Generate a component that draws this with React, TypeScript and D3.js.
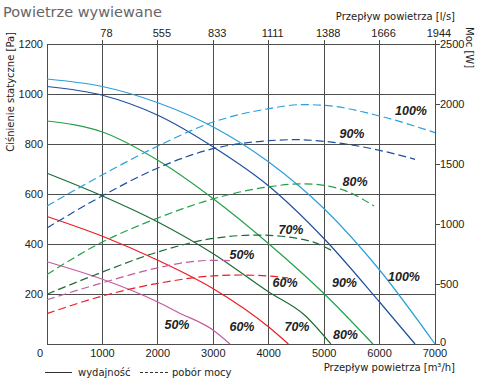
import * as d3 from "d3";

// --- chart data ---
const flowTicks = [0, 1000, 2000, 3000, 4000, 5000, 6000, 7000];
const lsTickFlows = [1000, 2000, 3000, 4000, 5000, 6000, 7000];
const lsTickLabels = ["78", "555", "833", "1111", "1388", "1666", "1944"];
const paTicks = [200, 400, 600, 800, 1000, 1200];
const wTicks = [0, 500, 1000, 1500, 2000, 2500];

type Pt = [number, number];

// static pressure [Pa] vs air flow [m3/h]
const pressure100: Pt[] = [[0, 1060], [1000, 1030], [2000, 965], [3000, 868], [4000, 728], [5000, 541], [6000, 296], [7000, 0]];
const pressure90: Pt[] = [[0, 1030], [1000, 995], [2000, 915], [3000, 788], [4000, 632], [5000, 421], [6000, 168], [6640, 0]];
const pressure80: Pt[] = [[0, 892], [1000, 848], [2000, 735], [3000, 581], [4000, 401], [5000, 201], [5880, 0]];
const pressure70: Pt[] = [[0, 683], [1000, 592], [2000, 488], [3000, 361], [4000, 208], [4650, 115], [5120, 0]];
const pressure60: Pt[] = [[0, 510], [1000, 431], [2000, 335], [3000, 221], [4000, 68], [4355, 0]];
const pressure50: Pt[] = [[0, 329], [1000, 259], [2000, 168], [2350, 128], [3000, 55], [3300, 0]];

// power [W] vs air flow [m3/h]
const power100: Pt[] = [[0, 1150], [1000, 1410], [2000, 1650], [3000, 1850], [4000, 1961], [4600, 1995], [5000, 1989], [6000, 1900], [7000, 1761]];
const power90: Pt[] = [[0, 967], [1000, 1235], [2000, 1467], [3000, 1628], [4000, 1694], [4500, 1703], [5000, 1689], [6000, 1614], [6640, 1539]];
const power80: Pt[] = [[0, 580], [1000, 850], [2000, 1050], [3000, 1210], [4000, 1310], [4600, 1335], [5000, 1322], [5450, 1265], [5900, 1150]];
const power70: Pt[] = [[0, 415], [1000, 600], [2000, 767], [3000, 880], [3800, 908], [4690, 864], [5130, 781]];
const power60: Pt[] = [[0, 253], [1000, 400], [2000, 505], [3000, 568], [3500, 575], [4000, 566], [4350, 550]];
const power50: Pt[] = [[0, 369], [1000, 510], [2000, 635], [2500, 680], [3000, 697], [3350, 694]];

const speeds = ["100%", "90%", "80%", "70%", "60%", "50%"];
const pressures = [pressure100, pressure90, pressure80, pressure70, pressure60, pressure50];
const powers = [power100, power90, power80, power70, power60, power50];
const colors = ["#2a9fdb", "#1d4f9e", "#24a048", "#1b6c38", "#ec1c24", "#c35ba0"];

// label anchors in data units
const pressureLabels: { t: string; flow: number; pa: number }[] = [
  { t: "100%", flow: 6441, pa: 269 },
  { t: "90%", flow: 5367, pa: 243 },
  { t: "80%", flow: 5385, pa: 37 },
  { t: "70%", flow: 4510, pa: 69 },
  { t: "60%", flow: 3518, pa: 68 },
  { t: "50%", flow: 2345, pa: 76 },
];
const powerLabels: { t: string; flow: number; w: number }[] = [
  { t: "100%", flow: 6567, w: 1942 },
  { t: "90%", flow: 5502, w: 1750 },
  { t: "80%", flow: 5557, w: 1350 },
  { t: "70%", flow: 4402, w: 948 },
  { t: "60%", flow: 4294, w: 506 },
  { t: "50%", flow: 3518, w: 739 },
];

const W = 480;
const H = 390;
const tickFont = "'Liberation Sans', Arial, sans-serif";
const titleFont = "'DejaVu Sans', Verdana, sans-serif";

export default function App() {
  const x = d3.scaleLinear().domain([0, 7000]).range([47, 435]);
  const yP = d3.scaleLinear().domain([0, 1200]).range([344, 44]);
  const yW = d3.scaleLinear().domain([0, 2500]).range([344, 44]);

  const pLine = d3
    .line<Pt>()
    .x((d) => x(d[0]))
    .y((d) => yP(d[1]))
    .curve(d3.curveMonotoneX);
  const wLine = d3
    .line<Pt>()
    .x((d) => x(d[0]))
    .y((d) => yW(d[1]))
    .curve(d3.curveMonotoneX);

  const grid = "#4d4d4d";
  const [x0, x1] = x.range();
  const [yb, yt] = yP.range();

  return (
    <svg
      width={W}
      height={H}
      style={{ position: "absolute", left: 0, top: 0, background: "#fff" }}
    >
      <text x={3} y={17} fontFamily={titleFont} fontSize={14.5} fill="#666">
        Powietrze wywiewane
      </text>

      {/* grid */}
      <g stroke={grid} strokeWidth={1} shapeRendering="crispEdges">
        {flowTicks.map((f) => (
          <line key={"v" + f} x1={x(f)} x2={x(f)} y1={yb} y2={f === 0 ? yt : yt - 4} />
        ))}
        {paTicks.map((p) => (
          <line key={"h" + p} x1={x0} x2={x1} y1={yP(p)} y2={yP(p)} />
        ))}
        <line x1={x0} x2={x1} y1={yb} y2={yb} />
        {wTicks.map((w) => (
          <line key={"w" + w} x1={x1} x2={x1 + 5} y1={yW(w)} y2={yW(w)} />
        ))}
      </g>

      {/* curves */}
      <g fill="none" strokeWidth={1.2}>
        {pressures.map((d, i) => (
          <path key={"p" + i} d={pLine(d) ?? ""} stroke={colors[i]} />
        ))}
        {powers.map((d, i) => (
          <path key={"w" + i} d={wLine(d) ?? ""} stroke={colors[i]} strokeDasharray="8 4" />
        ))}
      </g>

      {/* curve labels */}
      <g
        fontFamily={tickFont}
        fontSize={12.5}
        fontWeight="bold"
        fontStyle="italic"
        fill="#222"
        textAnchor="middle"
        dominantBaseline="central"
      >
        {pressureLabels.map((l) => (
          <text key={"pl" + l.t} x={x(l.flow)} y={yP(l.pa)}>
            {l.t}
          </text>
        ))}
        {powerLabels.map((l) => (
          <text key={"wl" + l.t} x={x(l.flow)} y={yW(l.w)}>
            {l.t}
          </text>
        ))}
      </g>

      {/* axes labels */}
      <g fontFamily={tickFont} fontSize={11} fill="#222">
        {flowTicks.map((f) => (
          <text key={"bx" + f} x={x(f) + (f === 0 ? -7 : 0)} y={357} textAnchor="middle">
            {f}
          </text>
        ))}
        {lsTickFlows.map((f, i) => (
          <text key={"tx" + f} x={x(f) + 4} y={37} textAnchor="middle">
            {lsTickLabels[i]}
          </text>
        ))}
        {paTicks.map((p) => (
          <text key={"ly" + p} x={43} y={yP(p)} textAnchor="end" dominantBaseline="central">
            {p}
          </text>
        ))}
        {wTicks.map((w) => (
          <text
            key={"ry" + w}
            x={440}
            y={yW(w) - (w === 0 ? 2 : 0)}
            dominantBaseline="central"
          >
            {w}
          </text>
        ))}
      </g>

      <g fontFamily={titleFont} fontSize={10} fill="#222">
        <text x={455} y={20} textAnchor="end">
          Przepływ powietrza [l/s]
        </text>
        <text x={455} y={371} textAnchor="end">
          Przepływ powietrza [m³/h]
        </text>
        <text transform="translate(14,32) rotate(-90)" textAnchor="end">
          Ciśnienie statyczne [Pa]
        </text>
        <text transform="translate(466,27) rotate(90)">Moc [W]</text>

        {/* legend */}
        <line x1={45} x2={72} y1={372.5} y2={372.5} stroke="#333" />
        <text x={78} y={376}>
          wydajność
        </text>
        <line x1={140} x2={168} y1={372.5} y2={372.5} stroke="#333" strokeDasharray="3 2" />
        <text x={172} y={376}>
          pobór mocy
        </text>
      </g>
    </svg>
  );
}
